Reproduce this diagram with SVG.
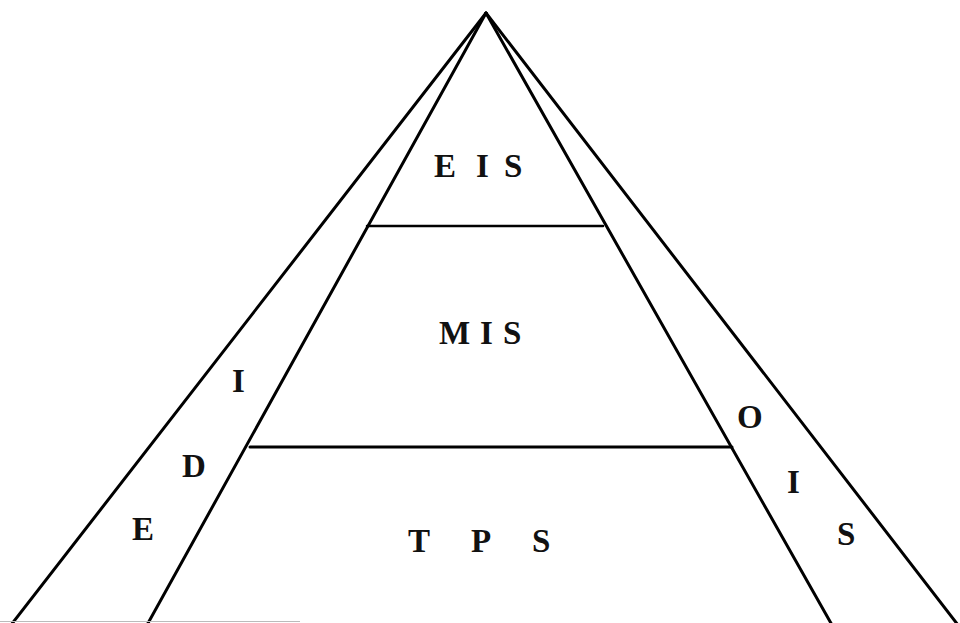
<svg xmlns="http://www.w3.org/2000/svg" width="960" height="623" viewBox="0 0 960 623">
<style>
.ln{stroke:#000;stroke-width:3;fill:none;stroke-linecap:round}
.t{font-family:"Liberation Serif","Times New Roman",serif;font-weight:bold;font-size:33px;fill:#111}
</style>
<rect width="960" height="623" fill="#fff"/>
<g id="connectors">
<line class="ln" x1="486" y1="13" x2="11" y2="625"/>
<line class="ln" x1="486" y1="13" x2="147" y2="625"/>
<line class="ln" x1="486" y1="13" x2="832" y2="625"/>
<line class="ln" x1="486" y1="13" x2="958" y2="625"/>
<line class="ln" x1="367" y1="226" x2="603" y2="226" style="stroke-width:2.5"/>
<line class="ln" x1="250" y1="447" x2="732" y2="447"/>
<line x1="0" y1="621.5" x2="300" y2="621.5" stroke="#bbb" stroke-width="1"/>
</g>
<g id="eis"><text class="t" y="177"><tspan x="434">E</tspan><tspan x="476">I</tspan><tspan x="504">S</tspan></text></g>
<g id="mis"><text class="t" y="344"><tspan x="439">M</tspan><tspan x="480">I</tspan><tspan x="503">S</tspan></text></g>
<g id="tps"><text class="t" y="552"><tspan x="408">T</tspan><tspan x="471">P</tspan><tspan x="532">S</tspan></text></g>
<g id="edi"><text class="t" x="232" y="392">I</text><text class="t" x="182" y="477">D</text><text class="t" x="132" y="540">E</text></g>
<g id="ois"><text class="t" x="737" y="428">O</text><text class="t" x="787" y="493">I</text><text class="t" x="837" y="545">S</text></g>
</svg>
